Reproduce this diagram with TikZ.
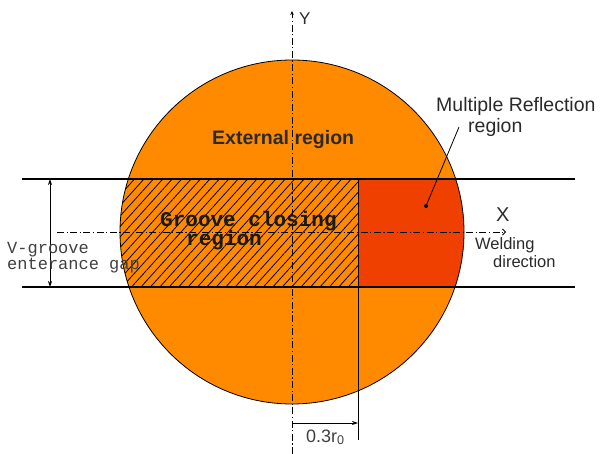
\documentclass[tikz,border=0pt]{standalone}
\usepackage{fontspec}
\setmainfont{Liberation Sans}
\newfontfamily\wsans{Liberation Sans}
\newfontfamily\monofont{Liberation Mono}
\usetikzlibrary{patterns.meta,arrows.meta}
\definecolor{orng}{HTML}{FF8A00}
\definecolor{redd}{HTML}{F04000}
\definecolor{txt}{HTML}{2A2A2A}
\tikzset{
  axisline/.style={line width=0.8pt, dash pattern=on 7pt off 2.5pt on 1.2pt off 2.5pt},
  rail/.style={line width=1.6pt},
  thin/.style={line width=0.8pt},
  sanslbl/.style={inner sep=0pt, anchor=base west, text=txt},
  monolbl/.style={inner sep=0pt, anchor=base west, font=\monofont\fontsize{17}{17}\selectfont, text=black!75},
  monobold/.style={inner sep=0pt, anchor=base west, font=\monofont\bfseries\fontsize{21}{21}\selectfont, text=black!90},
}
\begin{document}
\begin{tikzpicture}[x=1pt,y=-1pt]
\useasboundingbox (0,0) rectangle (615,454);
% circle and regions
\fill[orng] (292,232) circle (172pt);
\begin{scope}
  \clip (292,232) circle (172pt);
  \fill[redd] (358,179) rectangle (470,287);
  \fill[pattern={Lines[angle=48,distance=7pt,line width=0.8pt]}] (110,179) rectangle (358,287);
\end{scope}
\draw[thin] (292,232) circle (172pt);
% named points
\coordinate (rtl) at (22,179);
\coordinate (rtr) at (575,179);
\coordinate (rbl) at (22,287);
\coordinate (rbr) at (575,287);
\coordinate (vtop) at (358,179);
\coordinate (vbot) at (358,440);
\coordinate (ybot) at (292,454);
\coordinate (ytop) at (292,11);
\coordinate (xl) at (57,232);
\coordinate (xr) at (506,232);
\coordinate (gapt) at (50,179);
\coordinate (gapb) at (50,287);
\coordinate (d0) at (292,423);
\coordinate (d1) at (358,423);
\coordinate (lead) at (459,127);
\coordinate (dot) at (426,206);
% rails
\draw[rail] (rtl) -- (rtr);
\draw[rail] (rbl) -- (rbr);
\draw[thin] (vtop) -- (vbot);
% axes
\draw[axisline, -{Stealth[length=4pt,width=3.5pt]}] (ybot) -- (ytop);
\draw[axisline, -{Straight Barb[length=3pt,width=6pt]}] (xl) -- (xr);
% dimension arrows
\draw[thin, {Stealth[length=6pt,width=4pt]}-{Stealth[length=6pt,width=4pt]}] (gapt) -- (gapb);
\draw[thin, -{Stealth[length=6pt,width=4pt]}] (d0) -- (d1);
% labels
\node[sanslbl, font=\wsans\fontsize{17}{18}\selectfont] (ylab) at (299,25) {Y};
\node[sanslbl, font=\wsans\fontsize{20}{18}\selectfont] (xlab) at (496,222) {X};
\node[sanslbl, font=\wsans\bfseries\fontsize{19.5}{18}\selectfont] (ext) at (212,145) {External region};
\node[sanslbl, font=\wsans\fontsize{19.5}{18}\selectfont] (mr1) at (436,112) {Multiple Reflection};
\node[sanslbl, font=\wsans\fontsize{19.5}{18}\selectfont] (mr2) at (468,133) {region};
\node[sanslbl, font=\wsans\fontsize{16.5}{18}\selectfont] (weld1) at (475,250) {Welding};
\node[sanslbl, font=\wsans\fontsize{16.5}{18}\selectfont] (weld2) at (493,267) {direction};
\node[monobold] (gc1) at (160,227) {Groove closing};
\node[monobold] (gc2) at (186,245) {region};
\node[monolbl] (vg1) at (7,253) {V-groove};
\node[monolbl] (vg2) at (7,269) {enterance gap};
\node[sanslbl, font=\wsans\fontsize{18}{16}\selectfont, text=black!75] (dl) at (306,442) {0.3r\textsubscript{0}};
% leader
\draw[thin] (lead) -- (dot);
\fill (dot) circle (2pt);
\end{tikzpicture}
\end{document}
